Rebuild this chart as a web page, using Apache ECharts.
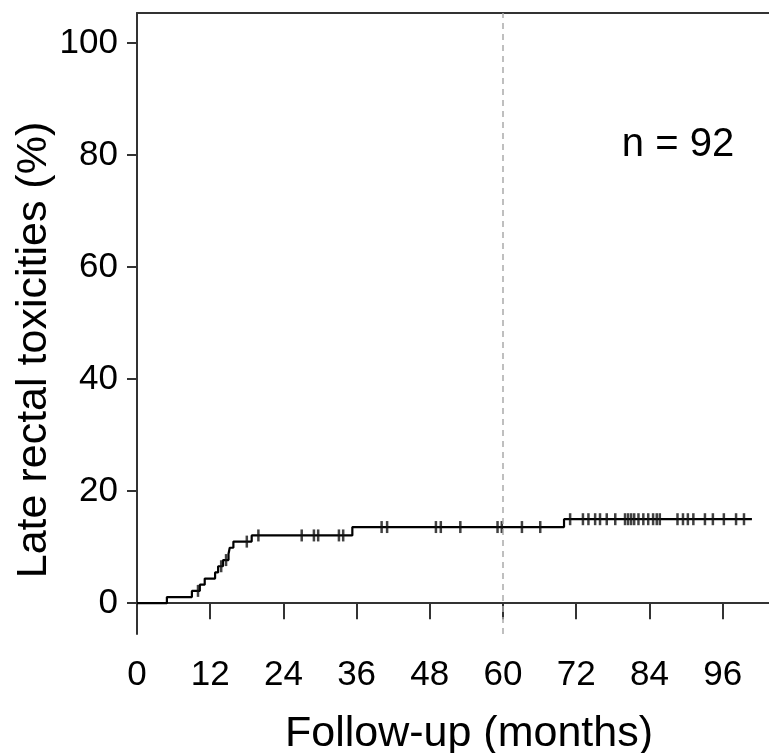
<!DOCTYPE html>
<html>
<head>
<meta charset="utf-8">
<script src="https://cdn.jsdelivr.net/npm/echarts@6/dist/echarts.min.js"></script>
<style>
  html, body { margin: 0; padding: 0; background: #fff; }
  #chart { width: 769px; height: 753px; }
</style>
</head>
<body>
<div id="chart"></div>
<script>
// event times (months) and cumulative incidence (%) after each event
const eventMonths = [0, 4.9, 9.0, 10.3, 11.1, 12.8, 13.3, 14.1, 15.0, 15.2, 15.8, 18.8, 35.3, 70.0];
const eventPct = [0, 1.1, 2.2, 3.3, 4.4, 5.5, 6.6, 7.7, 8.8, 9.9, 11.0, 12.1, 13.6, 15.0];
const lastFollowUp = 100.8;

// censored patients (months)
const censorMonths = [
  10.0, 13.8, 14.6, 18.0,
  19.9, 27.0, 29.0, 29.7, 33.1, 33.8,
  40.1, 41.0, 49.0, 49.8, 53.0, 59.1, 59.8, 63.1, 66.1,
  71.0, 73.1, 74.0, 75.1, 75.9, 77.0, 78.4, 80.0, 80.5, 81.0, 81.5, 82.2,
  83.0, 83.8, 84.6, 85.2, 85.7, 88.6, 89.5, 90.3, 91.2, 93.1, 94.4, 96.2,
  98.2, 99.5
];

const xTicks = [0, 12, 24, 36, 48, 60, 72, 84, 96];
const yTicks = [0, 20, 40, 60, 80, 100];

const curveData = eventMonths.map((m, i) => [m, eventPct[i]]);
curveData.push([lastFollowUp, eventPct[eventPct.length - 1]]);

// level of the curve at a censor time
const levelAt = (t) => {
  let v = 0;
  eventMonths.forEach((m, i) => { if (m <= t) v = eventPct[i]; });
  return v;
};
const censorData = censorMonths.map(m => [m, levelAt(m)]);

const axisColor = '#333';
const font = 'Liberation Sans, Arial, Helvetica, sans-serif';

const chart = echarts.init(document.getElementById('chart'));
chart.setOption({
  animation: false,
  backgroundColor: '#fff',
  grid: { left: 137, right: 0, top: 13, bottom: 119, containLabel: false },
  xAxis: [{
    type: 'value',
    min: 0,
    max: 103.6,
    splitLine: { show: false },
    axisLine: { show: true, lineStyle: { color: axisColor, width: 2 } },
    axisTick: { show: true, customValues: xTicks, length: 16, lineStyle: { color: axisColor, width: 2 } },
    axisLabel: { customValues: xTicks, color: '#000', fontSize: 35, fontFamily: font, margin: 24 }
  }, {
    type: 'value',
    position: 'top',
    min: 0,
    max: 103.6,
    splitLine: { show: false },
    axisLine: { show: true, lineStyle: { color: axisColor, width: 2 } },
    axisTick: { show: false },
    axisLabel: { show: false }
  }],
  yAxis: {
    type: 'value',
    min: -5.5,
    max: 105.4,
    splitLine: { show: false },
    axisLine: { show: true, lineStyle: { color: axisColor, width: 2 } },
    axisTick: { show: true, customValues: yTicks, length: 10, lineStyle: { color: axisColor, width: 2 } },
    axisLabel: { customValues: yTicks, color: '#000', fontSize: 35, fontFamily: font, margin: 19 }
  },
  graphic: [
    {
      type: 'text', x: 469, y: 734,
      style: { text: 'Follow-up (months)', fontSize: 43, fontFamily: font, fill: '#000', align: 'center', verticalAlign: 'middle' }
    },
    {
      type: 'text', x: 34, y: 350, rotation: Math.PI / 2,
      style: { text: 'Late rectal toxicities (%)', fontSize: 43, fontFamily: font, fill: '#000', align: 'center', verticalAlign: 'middle' }
    },
    {
      type: 'text', x: 678, y: 145,
      style: { text: 'n = 92', fontSize: 40, fontFamily: font, fill: '#000', align: 'center', verticalAlign: 'middle' }
    }
  ],
  series: [{
    type: 'line',
    step: 'end',
    data: curveData,
    showSymbol: false,
    lineStyle: { color: '#000', width: 2.2 },
    markLine: {
      silent: true,
      symbol: 'none',
      label: { show: false },
      lineStyle: { color: '#aaa', type: [6, 5], width: 1.5 },
      data: [{ xAxis: 60 }]
    },
    z: 3
  }, {
    type: 'scatter',
    data: censorData,
    symbol: 'rect',
    symbolSize: [2.5, 12],
    itemStyle: { color: '#111' },
    z: 4
  }]
});
</script>
</body>
</html>
